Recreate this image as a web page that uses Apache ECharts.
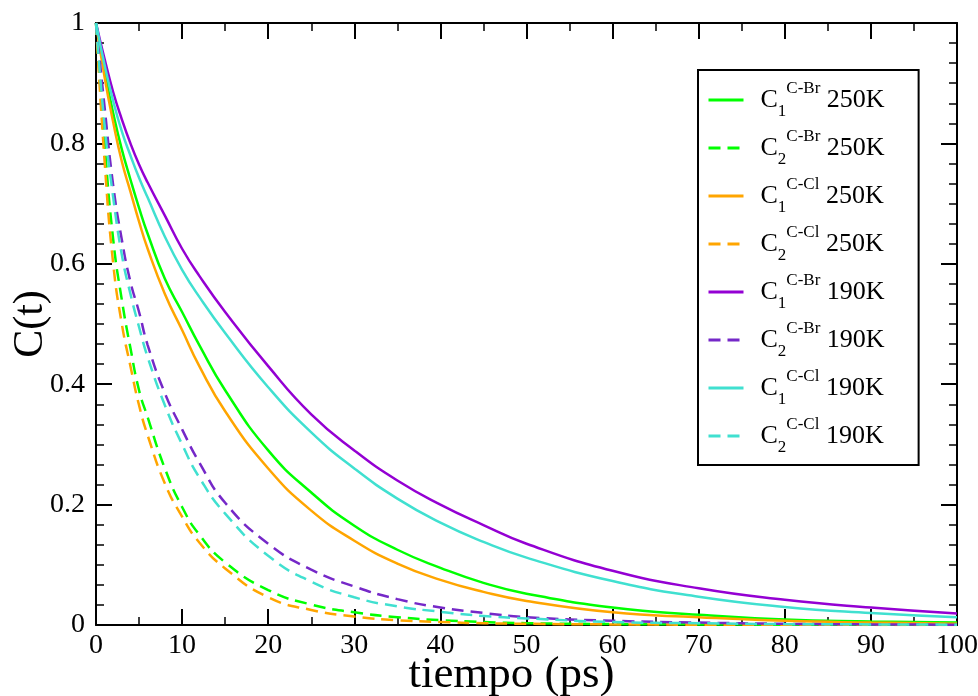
<!DOCTYPE html>
<html>
<head>
<meta charset="utf-8">
<script src="https://cdn.jsdelivr.net/npm/echarts@6/dist/echarts.min.js"></script>
<style>
html,body{margin:0;padding:0;background:#fff;}
#chart{width:978px;height:696px;}
</style>
</head>
<body>
<div id="chart"></div>
<script>
// time points (ps)
const tiempo = [0,1,2,3,4,5,6,8,10,12,15,20,25,30,35,40,45,50,60,70,80,90,100];

// C1 and C2 correlation functions
const c1Br250 = [1,0.92,0.85,0.79,0.74,0.693,0.65,0.575,0.52,0.465,0.39,0.29,0.22,0.165,0.125,0.095,0.07,0.052,0.029,0.017,0.009,0.006,0.004];
const c2Br250 = [1,0.80,0.64,0.54,0.46,0.39,0.345,0.26,0.196,0.15,0.104,0.058,0.034,0.021,0.013,0.008,0.005,0.003,0.0015,0.001,0.0005,0.0003,0.0002];
const c1Cl250 = [1,0.91,0.835,0.77,0.72,0.67,0.625,0.55,0.49,0.43,0.355,0.26,0.19,0.14,0.102,0.075,0.055,0.04,0.021,0.013,0.007,0.004,0.002];
const c2Cl250 = [1,0.77,0.60,0.50,0.43,0.365,0.315,0.235,0.18,0.137,0.094,0.046,0.025,0.014,0.008,0.005,0.003,0.002,0.001,0.0005,0.0003,0.0002,0.0001];
const c1Br190 = [1,0.94,0.885,0.84,0.80,0.765,0.735,0.68,0.625,0.58,0.52,0.43,0.35,0.29,0.24,0.20,0.166,0.135,0.09,0.061,0.042,0.029,0.019];
const c2Br190 = [1,0.86,0.73,0.64,0.57,0.52,0.465,0.385,0.325,0.27,0.203,0.135,0.092,0.064,0.043,0.029,0.02,0.013,0.007,0.004,0.002,0.001,0.0005];
const c1Cl190 = [1,0.93,0.87,0.82,0.78,0.743,0.71,0.645,0.59,0.545,0.485,0.395,0.32,0.26,0.21,0.17,0.138,0.112,0.073,0.047,0.030,0.020,0.013];
const c2Cl190 = [1,0.83,0.71,0.615,0.55,0.495,0.445,0.365,0.30,0.245,0.185,0.115,0.072,0.046,0.031,0.022,0.015,0.011,0.005,0.003,0.0015,0.001,0.0005];

const seriesDefs = [
  {name:'C1Br250', idx:'1', bond:'C-Br', temp:'250K', data:c1Br250, color:'#00ff00', dashed:false},
  {name:'C2Br250', idx:'2', bond:'C-Br', temp:'250K', data:c2Br250, color:'#00ff00', dashed:true},
  {name:'C1Cl250', idx:'1', bond:'C-Cl', temp:'250K', data:c1Cl250, color:'#ffa500', dashed:false},
  {name:'C2Cl250', idx:'2', bond:'C-Cl', temp:'250K', data:c2Cl250, color:'#ffa500', dashed:true},
  {name:'C1Br190', idx:'1', bond:'C-Br', temp:'190K', data:c1Br190, color:'#9400d3', dashed:false},
  {name:'C2Br190', idx:'2', bond:'C-Br', temp:'190K', data:c2Br190, color:'#7528c8', dashed:true},
  {name:'C1Cl190', idx:'1', bond:'C-Cl', temp:'190K', data:c1Cl190, color:'#40e0d0', dashed:false},
  {name:'C2Cl190', idx:'2', bond:'C-Cl', temp:'190K', data:c2Cl190, color:'#40e0d0', dashed:true}
];
const defByName = {};
seriesDefs.forEach(d => defByName[d.name] = d);

const FONT = '"Liberation Serif", "Times New Roman", serif';
const chart = echarts.init(document.getElementById('chart'), null, {renderer:'canvas'});

const axisCommon = {
  type:'value',
  axisLine:{show:true, onZero:false, lineStyle:{color:'#000', width:2}},
  axisTick:{show:true, inside:true, length:16, lineStyle:{color:'#000', width:2}},
  minorTick:{show:true, length:8, lineStyle:{color:'#000', width:1.5}},
  splitLine:{show:false},
  minorSplitLine:{show:false}
};

const option = {
  animation:false,
  backgroundColor:'#fff',
  grid:{left:96, right:21, top:23, bottom:71, containLabel:false, outerBoundsMode:'none'},
  xAxis:[
    Object.assign({}, axisCommon, {
      min:0, max:100, interval:10, position:'bottom',
      minorTick:Object.assign({}, axisCommon.minorTick, {splitNumber:2}),
      axisLabel:{show:true, color:'#000', fontFamily:FONT, fontSize:28, margin:7},
      name:'tiempo (ps)', nameLocation:'middle', nameGap:28, nameMoveOverlap:false,
      nameTextStyle:{color:'#000', fontFamily:FONT, fontSize:45, padding:[0,30,0,0]}
    }),
    Object.assign({}, axisCommon, {
      min:0, max:100, interval:10, position:'top',
      minorTick:Object.assign({}, axisCommon.minorTick, {splitNumber:2}),
      axisLabel:{show:false}
    })
  ],
  yAxis:[
    Object.assign({}, axisCommon, {
      min:0, max:1, interval:0.2, position:'left',
      minorTick:Object.assign({}, axisCommon.minorTick, {splitNumber:6}),
      axisLabel:{show:true, color:'#000', fontFamily:FONT, fontSize:28, margin:11},
      name:'C(t)', nameLocation:'middle', nameGap:44, nameMoveOverlap:false,
      nameTextStyle:{color:'#000', fontFamily:FONT, fontSize:42}
    }),
    Object.assign({}, axisCommon, {
      min:0, max:1, interval:0.2, position:'right',
      minorTick:Object.assign({}, axisCommon.minorTick, {splitNumber:6}),
      axisLabel:{show:false}
    })
  ],
  legend:{
    show:true,
    orient:'vertical',
    left:698, top:70,
    padding:[10,34,9,9],
    itemGap:8,
    itemWidth:35, itemHeight:14,
    backgroundColor:'#fff',
    borderColor:'#000', borderWidth:2,
    itemStyle:{opacity:0},
    lineStyle:{width:3},
    data:seriesDefs.map(d => d.name),
    formatter:function(name){
      const d = defByName[name];
      return '{c|C}{sub|' + d.idx + '}{sup|' + d.bond + '}{t| ' + d.temp + '}';
    },
    textStyle:{
      color:'#000', fontFamily:FONT, fontSize:26, lineHeight:40,
      rich:{
        c:{fontFamily:FONT, fontSize:26, color:'#000', lineHeight:40, padding:[0,0,0,12]},
        sub:{fontFamily:FONT, fontSize:17, color:'#000', lineHeight:17, verticalAlign:'bottom'},
        sup:{fontFamily:FONT, fontSize:17, color:'#000', lineHeight:17, verticalAlign:'top'},
        t:{fontFamily:FONT, fontSize:26, color:'#000', lineHeight:40}
      }
    }
  },
  series:seriesDefs.map(d => ({
    name:d.name,
    type:'line',
    xAxisIndex:0, yAxisIndex:0,
    data:tiempo.map((t,i) => [t, d.data[i]]),
    smooth:0.5,
    symbol:'none',
    showSymbol:false,
    color:d.color,
    itemStyle:{color:d.color, opacity:0},
    lineStyle:{color:d.color, width:2.5, type:d.dashed ? [12,7] : 'solid'},
    z:2
  }))
};
chart.setOption(option);
</script>
</body>
</html>
